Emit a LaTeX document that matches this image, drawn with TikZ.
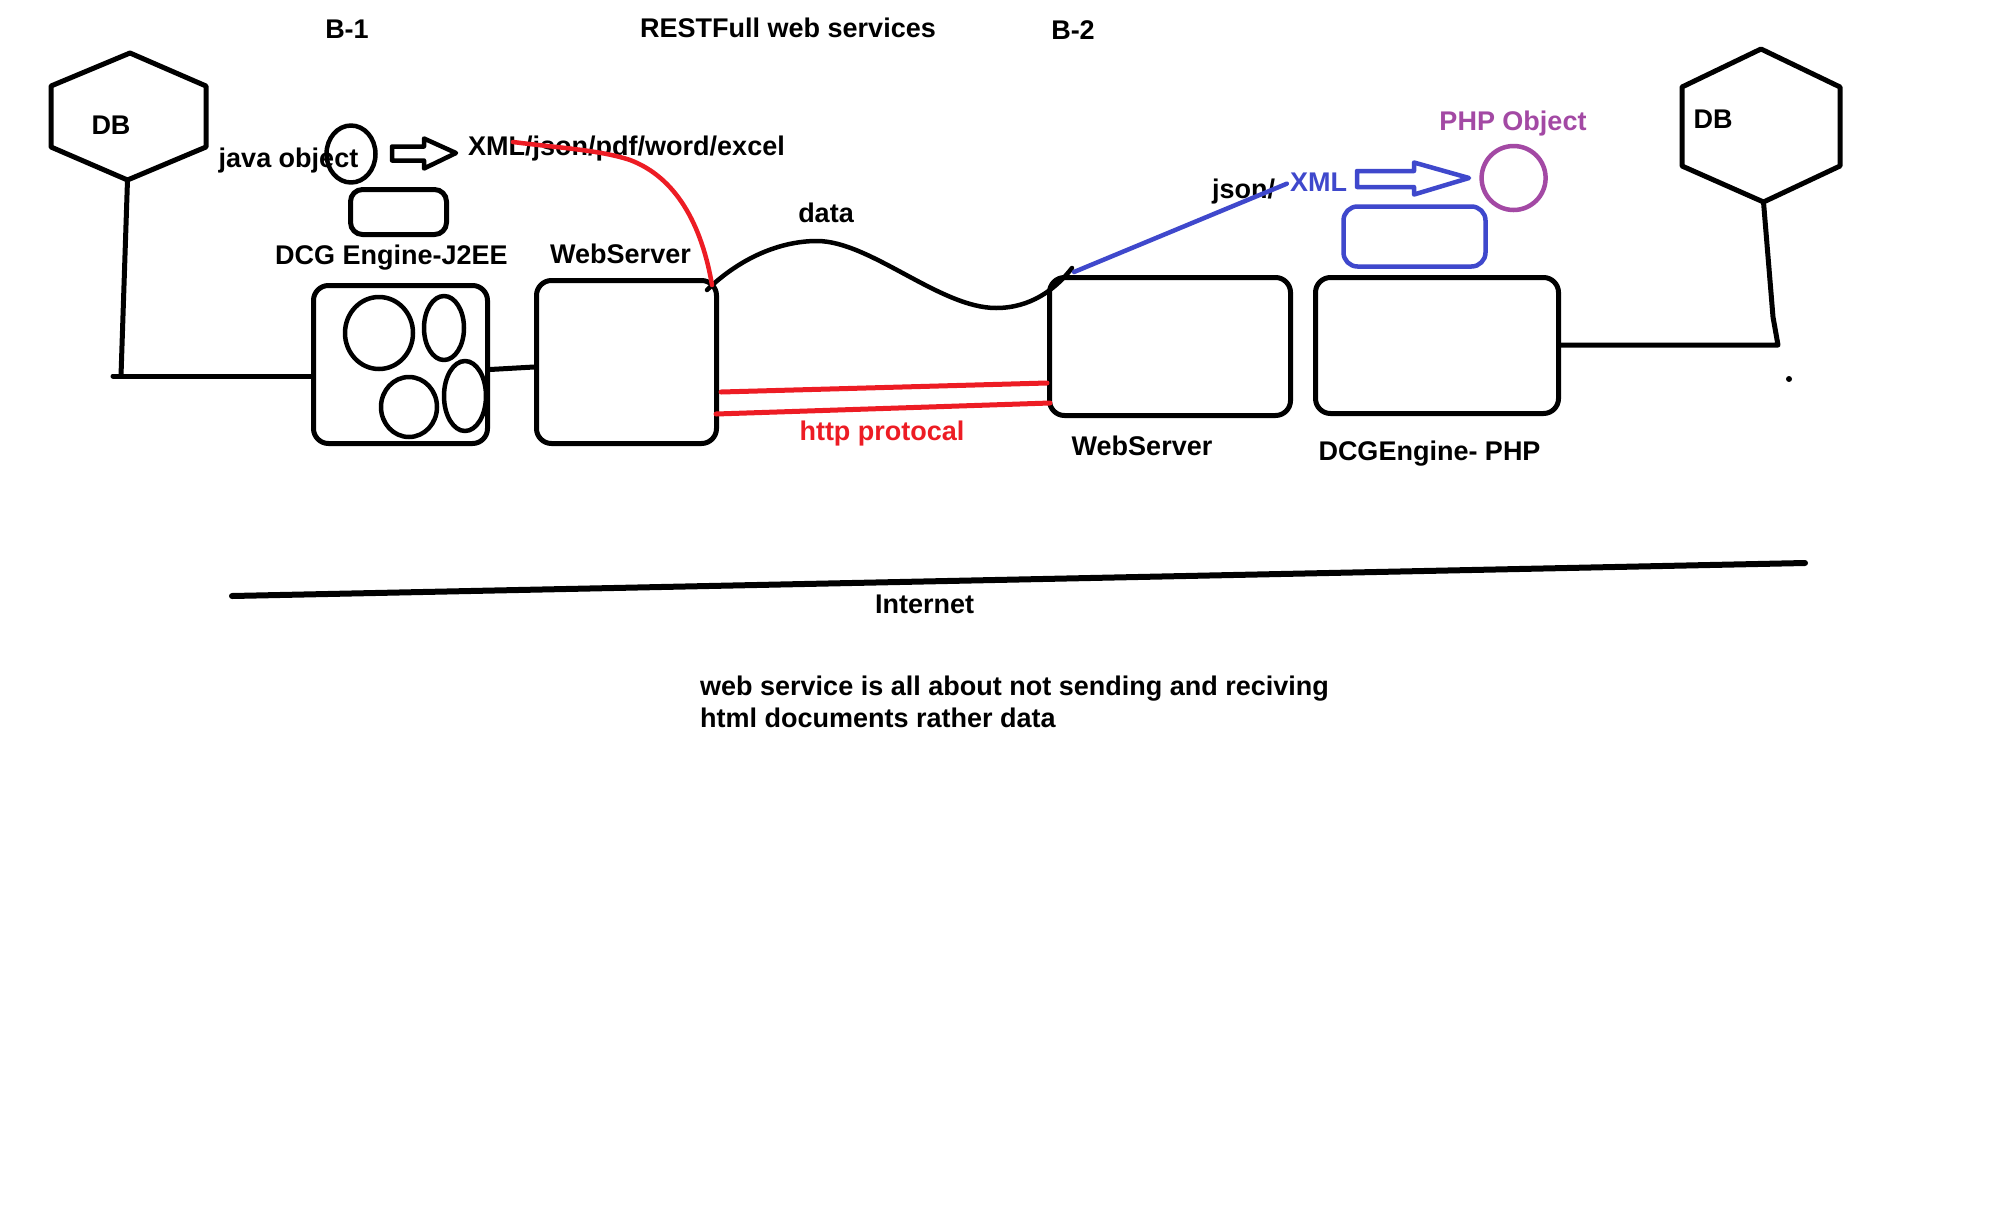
\documentclass[tikz,border=0pt]{standalone}
\usepackage{fontspec}
\setmainfont{Liberation Sans}
\usetikzlibrary{shapes.geometric}
\definecolor{pred}{RGB}{237,28,36}
\definecolor{pblue}{RGB}{63,72,204}
\definecolor{ppurple}{RGB}{163,73,164}
\begin{document}
\begin{tikzpicture}[x=1pt,y=-1pt, line join=round, line cap=round,
  lbl/.style={font=\fontsize{27}{32}\selectfont\bfseries, inner sep=0pt, anchor=base},
  box/.style={draw, line width=5pt, rounded corners=15pt, inner sep=0pt, rectangle},
  oval/.style={draw, ellipse, line width=4.5pt, inner sep=0pt},
  wire/.style={line width=5pt},
  thinwire/.style={line width=4.5pt}]
\useasboundingbox[fill=white] (0,0) rectangle (1992,1227);

% titles
\node[lbl] (b1) at (347,38) {B-1};
\node[lbl] (rest) at (788,37) {RESTFull web services};
\node[lbl] (b2) at (1073,39) {B-2};

% left DB hexagon
\draw[wire] (130,53) -- (206,86) -- (206,147) -- (127.5,180) -- (51,147) -- (51,86) -- cycle;
\node[lbl] (dbL) at (111,134) {DB};
\coordinate (dbLb) at (127.5,180);

% right DB hexagon
\draw[wire] (1761,49) -- (1840,87) -- (1840,166) -- (1763.5,202) -- (1682,166) -- (1682,87) -- cycle;
\node[lbl] (dbR) at (1713,128) {DB};
\coordinate (dbRb) at (1763.5,202);

% boxes
\node[box, minimum width=174pt, minimum height=158pt] (j2ee) at (400.5,364.5) {};
\node[box, minimum width=180pt, minimum height=163pt] (wsL) at (626.5,362) {};
\node[box, minimum width=241pt, minimum height=138pt] (wsR) at (1170,346.5) {};
\node[box, minimum width=243pt, minimum height=136pt] (php) at (1437,345.5) {};
\node[box, rounded corners=12pt, minimum width=96pt, minimum height=45pt] (smallL) at (398.5,212) {};
\node[box, draw=pblue, line width=4.5pt, rounded corners=14pt, minimum width=142pt, minimum height=60pt] (smallR) at (1414.5,236.5) {};

% ellipses inside J2EE engine
\node[oval, minimum width=68pt, minimum height=72pt] (e1) at (379,333) {};
\node[oval, minimum width=40pt, minimum height=64pt] (e2) at (444,328) {};
\node[oval, minimum width=56pt, minimum height=60pt] (e3) at (409,407) {};
\node[oval, minimum width=42pt, minimum height=70pt] (e4) at (465,396) {};

% labels
\node[lbl] (javaobj) at (288.5,167) {java object};
\node[oval, minimum width=49pt, minimum height=57pt] (jobj) at (351,154) {};
\node[lbl, anchor=base west] (formats) at (468,155) {XML/json/pdf/word/excel};
\node[lbl] (dcgj) at (391.5,264) {DCG Engine-J2EE};
\node[lbl] (wsLl) at (620.5,263) {WebServer};
\node[lbl] (data) at (826,222) {data};
\node[lbl] (json) at (1243.5,198) {json/};
\node[lbl, text=pblue] (xmlB) at (1318.5,191) {XML};
\node[lbl, text=ppurple] (phpobj) at (1513,130) {PHP Object};
\node[oval, draw=ppurple, minimum width=64pt, minimum height=64pt] (phpc) at (1513.6,178) {};
\node[lbl, text=pred] (http) at (882,440) {http protocal};
\node[lbl] (wsRl) at (1142,455) {WebServer};
\node[lbl] (dcgp) at (1429.5,460) {DCGEngine- PHP};
\node[lbl] (inet) at (924.5,613) {Internet};
\node[lbl, anchor=base west] (body1) at (700,695) {web service is all about not sending and reciving};
\node[lbl, anchor=base west] (body2) at (700,727) {html documents rather data};

% hollow arrows
\draw[line width=4.5pt] (392,146.5) -- (424,146.5) -- (424,138.5) -- (456,153) -- (424,168.5) -- (424,160.5) -- (392,160.5) -- cycle;
\draw[pblue, line width=4.5pt] (1357,171) -- (1414,171) -- (1414,162.5) -- (1469,178) -- (1414,194.5) -- (1414,187) -- (1357,187) -- cycle;

% DB connections
\coordinate (cL) at (121,376);
\coordinate (cLo) at (113,376);
\draw[wire] (dbLb) -- (cL);
\draw[wire] (cLo) -- (cLo -| j2ee.west);
\draw[wire] ([yshift=-5pt]j2ee.east) -- ([yshift=-5pt]wsL.west);
\coordinate (cR1) at (1773,317);
\coordinate (cR) at (1778,345);
\draw[wire] (dbRb) -- (cR1) -- (cR) -- (cR -| php.east);
\fill (1789,379) circle (3pt);

% wave (data)
\coordinate (wvA) at (707,290);
\coordinate (wvB) at (1072,268);
\draw[thinwire] (wvA) .. controls (740,258) and (780,241) .. (817,241)
  .. controls (870,241) and (940,308) .. (996,308)
  .. controls (1030,308) and (1055,290) .. (wvB);

% red curve from formats to left webserver
\coordinate (rcA) at (513,142);
\coordinate (rcB) at (712,285);
\draw[pred, thinwire] (rcA) .. controls (560,148) and (600,150) .. (630,160)
  .. controls (670,175) and (700,215) .. (rcB);

% http protocol lines
\draw[pred, wire] ([shift={(2,30)}]wsL.east) -- ([shift={(0,36.5)}]wsR.west);
\draw[pred, wire] ([shift={(-3,52)}]wsL.east) -- ([shift={(3,56.5)}]wsR.west);

% blue line to XML
\coordinate (blA) at (1074,272);
\draw[pblue, thinwire] (blA) -- ([xshift=-3pt,yshift=-2pt]xmlB.west);

% Internet line
\coordinate (inA) at (232,596);
\coordinate (inB) at (1805,563);
\draw[line width=6pt] (inA) -- (inB);
\end{tikzpicture}
\end{document}
